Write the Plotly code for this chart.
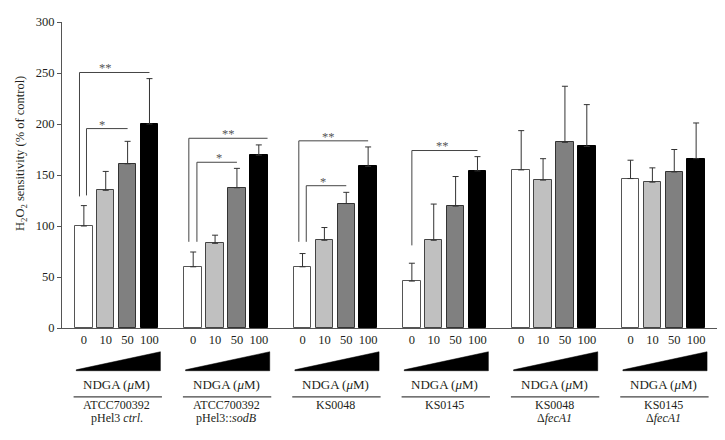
import plotly.graph_objects as go

# ---------------- data ----------------
strain_line1 = ["ATCC700392", "ATCC700392", "KS0048", "KS0145", "KS0048", "KS0145"]
strain_line2 = ["pHel3 <i>ctrl</i>.", "pHel3::<i>sodB</i>", "", "", "Δ<i>fecA1</i>", "Δ<i>fecA1</i>"]
conc_labels = ["0", "10", "50", "100"]

val_0 = [100, 60, 60, 46, 155, 146.5]
err_0 = [20, 14.5, 13, 17.5, 38.5, 18]
val_10 = [135, 83, 86, 86, 145, 143]
err_10 = [18.5, 8, 12.5, 35.5, 21, 14]
val_50 = [161, 137.5, 122, 119.5, 182, 153]
err_50 = [22, 19, 11, 29, 55, 22]
val_100 = [200, 169.5, 158.5, 154, 178, 166]
err_100 = [44.5, 10, 19, 14, 41, 35]

# significance brackets: (group, label, left offset, right offset, top level, leg bottom, label offset)
brackets = [
    (0, "**", -0.2, 3.0, 250.5, 129, 1.0),
    (0, "*", 0.12, 2.0, 195.5, 130, 0.85),
    (1, "**", -0.2, 3.4, 186, 84.5, 1.6),
    (1, "*", 0.17, 2.0, 162.5, 84.5, 1.2),
    (2, "**", -0.17, 3.0, 183.5, 84.5, 1.2),
    (2, "*", 0.17, 2.0, 139.5, 84.5, 0.95),
    (3, "**", 0.0, 3.0, 174, 81, 1.4),
]

# ---------------- styling ----------------
FONT = "Liberation Serif, Times New Roman, serif"
TXT = "#231f20"
AX = "#555555"
colors = ["#ffffff", "#c0c0c0", "#808080", "#000000"]
outline = ["#555555", "#444444", "#333333", "#000000"]
STEP = 5
n_groups = len(strain_line1)

# the page body adds an 8px offset, so the figure is drawn 8px smaller
OFF = 8
FIG_W = 725 - OFF
FIG_H = 440 - OFF
PLOT_TOP = 7
PLOT_H = 313

series = [(val_0, err_0), (val_10, err_10), (val_50, err_50), (val_100, err_100)]

fig = go.Figure()
for i, (vals, errs) in enumerate(series):
    xs = [g * STEP + i for g in range(n_groups)]
    fig.add_trace(go.Bar(
        x=xs, y=vals, width=0.8,
        marker=dict(color=colors[i], line=dict(color=outline[i], width=1)),
        error_y=dict(type="data", symmetric=False, array=errs, arrayminus=[0] * n_groups,
                     color="#333333", thickness=1, width=3),
        showlegend=False,
    ))

shapes = []
annotations = []

# brackets and stars
for g, lab, xl, xr, ytop, ybot, xs in brackets:
    x0 = g * STEP + xl
    x1 = g * STEP + xr
    shapes.append(dict(type="path", xref="x", yref="y",
                       path=f"M {x0},{ybot} L {x0},{ytop} L {x1},{ytop}",
                       line=dict(color="#444444", width=1)))
    annotations.append(dict(x=g * STEP + xs, y=ytop + 4, xref="x", yref="y",
                            text=lab, showarrow=False, xanchor="center", yanchor="middle",
                            font=dict(family=FONT, size=12.5, color="#555555")))


def py(px):
    """reference-window pixel row -> paper y"""
    return (PLOT_TOP + PLOT_H - (px - OFF)) / PLOT_H


for g in range(n_groups):
    base = g * STEP
    x0 = base - 0.35
    x1 = base + 3.5
    yt = py(352.3)
    yb = py(371.7)
    shapes.append(dict(type="path", xref="x", yref="paper",
                       path=f"M {x0},{yb} L {x0},{yb + 0.003} L {x1},{yt} L {x1},{yb} Z",
                       fillcolor="#000000", line=dict(color="#000000", width=0.5)))
    annotations.append(dict(x=base + 1.5, y=py(386), xref="x", yref="paper",
                            text="NDGA (<i>μ</i>M)", showarrow=False,
                            xanchor="center", yanchor="middle",
                            font=dict(family=FONT, size=13, color=TXT)))
    shapes.append(dict(type="line", xref="x", yref="paper",
                       x0=base - 0.47, x1=base + 3.57, y0=py(398.5), y1=py(398.5),
                       line=dict(color="#444444", width=1.2)))
    annotations.append(dict(x=base + 1.5, y=py(406.5), xref="x", yref="paper",
                            text=strain_line1[g], showarrow=False,
                            xanchor="center", yanchor="middle",
                            font=dict(family=FONT, size=12, color=TXT)))
    if strain_line2[g]:
        annotations.append(dict(x=base + 1.5, y=py(420.5), xref="x", yref="paper",
                                text=strain_line2[g], showarrow=False,
                                xanchor="center", yanchor="middle",
                                font=dict(family=FONT, size=12, color=TXT)))

# y-axis title
annotations.append(dict(x=(21 - OFF - 54) / 656, y=py(150), xref="paper", yref="paper",
                        text="H<sub>2</sub>O<sub>2</sub> sensitivity (% of control)",
                        showarrow=False, textangle=-90, xanchor="center", yanchor="middle",
                        font=dict(family=FONT, size=12.5, color=TXT)))

tickvals = [g * STEP + i for g in range(n_groups) for i in range(4)]
ticktext = [conc_labels[i] for g in range(n_groups) for i in range(4)]

fig.update_layout(
    width=FIG_W, height=FIG_H,
    margin=dict(l=54, r=FIG_W - 54 - 656, t=PLOT_TOP, b=FIG_H - PLOT_TOP - PLOT_H),
    plot_bgcolor="white", paper_bgcolor="white",
    bargap=0, barmode="overlay",
    shapes=shapes, annotations=annotations,
    font=dict(family=FONT, color=TXT),
    xaxis=dict(range=[-1, 29], tickvals=tickvals, ticktext=ticktext,
               showgrid=False, zeroline=False, showline=True, linecolor=AX, linewidth=1,
               ticks="", tickfont=dict(family=FONT, size=12.5, color=TXT)),
    yaxis=dict(range=[0, 300], tickvals=[0, 50, 100, 150, 200, 250, 300],
               showgrid=False, zeroline=False, showline=True, linecolor=AX, linewidth=1,
               ticks="outside", ticklen=4, tickcolor=AX, tickwidth=1,
               tickfont=dict(family=FONT, size=12.5, color=TXT)),
)

fig.write_html("out.html")
